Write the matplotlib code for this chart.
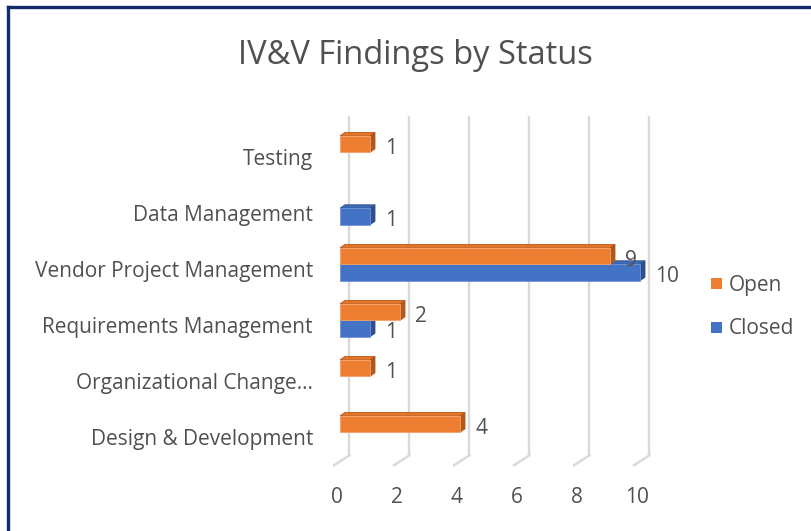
import numpy as np
import matplotlib
matplotlib.use('Agg')
from matplotlib import pyplot as plt
from matplotlib.patches import Polygon, Rectangle
from matplotlib.lines import Line2D

# data (bottom to top, like the chart)
categories = ['Design & Development', 'Organizational Change\u2026', 'Requirements Management',
              'Vendor Project Management', 'Data Management', 'Testing']
open_vals = [4, 1, 2, 9, 0, 1]
closed_vals = [0, 0, 1, 10, 1, 0]
x_ticks = [0, 2, 4, 6, 8, 10]

ORANGE = '#ED7D31'
ORANGE_SIDE = '#B4581C'
ORANGE_TOP = '#E2772C'
BLUE = '#4472C4'
BLUE_SIDE = '#2D4F8E'
BLUE_TOP = '#3F6AB8'
TXT = '#505050'
GRID = '#D9D9D9'
FS = 15

plt.rcParams['font.family'] = ['Open Sans', 'DejaVu Sans']

W, H = 812, 531
fig = plt.figure(figsize=(W / 100, H / 100), dpi=100)

# axes: value 0 -> px 340, 10 -> px 640; category 0 at px 432, 5 at px 152
left_px, right_px = 340, 640
top_px, bot_px = 124.3, 460.3
ax = fig.add_axes([left_px / W, 1 - bot_px / H, (right_px - left_px) / W, (bot_px - top_px) / H])
ax.set_xlim(0, 10)
ax.set_ylim(-0.5, 5.5)
ax.axis('off')

ux = 30.0   # px per value unit
uy = 56.0   # px per category unit
bh = 16.4 / uy  # bar height
dx, dy = 5 / ux, 3.5 / uy        # bar depth
gdx = 9.5 / ux                    # back wall offset
y_back = -23 / uy
y_front = -33 / uy
y_topgrid = 315 / uy

# gridlines on back wall + floor
for v in x_ticks:
    ax.add_line(Line2D([v + gdx, v + gdx], [y_back, y_topgrid], color=GRID, lw=1.7,
                       clip_on=False, zorder=0))
    ax.add_line(Line2D([v + gdx, v - 0.2], [y_back, y_front], color=GRID, lw=1.7,
                       clip_on=False, zorder=0))
    ax.text(v - 0.1, -65 / uy, str(v), ha='center', va='center', fontsize=FS, color=TXT)


def bar3d(y, v, front, side, top):
    if v <= 0:
        return
    y0, y1 = y - bh / 2, y + bh / 2
    ax.add_patch(Polygon([(0, y1), (v, y1), (v + dx, y1 + dy), (dx, y1 + dy)],
                         closed=True, fc=top, ec=side, lw=0.6, clip_on=False, zorder=2))
    ax.add_patch(Polygon([(v, y0), (v, y1), (v + dx, y1 + dy), (v + dx, y0 + dy)],
                         closed=True, fc=side, ec=side, lw=0.6, clip_on=False, zorder=2))
    ax.barh(y, v, height=bh, left=0, color=front, edgecolor='#F4A26A' if front == ORANGE else '#6F93D6',
            lw=0.6, zorder=3, clip_on=False)


ypos = np.arange(len(categories))
for i, y in enumerate(ypos):
    bar3d(y - bh / 2, closed_vals[i], BLUE, BLUE_SIDE, BLUE_TOP)
    bar3d(y + bh / 2, open_vals[i], ORANGE, ORANGE_SIDE, ORANGE_TOP)

# value labels
for i, y in enumerate(ypos):
    if open_vals[i] > 0:
        ax.annotate(str(open_vals[i]), (open_vals[i] + dx, y + bh / 2), xytext=(7.5, -3),
                    textcoords='offset points', ha='left', va='center', fontsize=FS, color=TXT,
                    zorder=5, annotation_clip=False)
    if closed_vals[i] > 0:
        ax.annotate(str(closed_vals[i]), (closed_vals[i] + dx, y - bh / 2), xytext=(7.5, -3),
                    textcoords='offset points', ha='left', va='center', fontsize=FS, color=TXT,
                    zorder=5, annotation_clip=False)

# category labels
for i, y in enumerate(ypos):
    ax.text(-27 / ux, y - 7 / uy, categories[i], ha='right', va='center', fontsize=FS, color=TXT)

# title
fig.text(415 / W, 1 - 55 / H, 'IV&V Findings by Status', ha='center', va='center',
         fontsize=23.5, color=TXT)

# legend
for lab, col, ly in [('Open', ORANGE, 283), ('Closed', BLUE, 327)]:
    fig.add_artist(Rectangle((711 / W, 1 - (ly + 5.5) / H), 11 / W, 11 / H, fc=col, ec='none'))
    fig.text(729 / W, 1 - (ly + 2) / H, lab, ha='left', va='center', fontsize=FS, color=TXT)

# dark border (only top and left visible)
fig.add_artist(Line2D([8.5 / W, 1.02], [1 - 6.5 / H, 1 - 6.5 / H], color='#102A6B', lw=2.4))
fig.add_artist(Line2D([8.5 / W, 8.5 / W], [1 - 6.5 / H, -0.02], color='#102A6B', lw=2.4))

fig.savefig('out.png', dpi=100)
